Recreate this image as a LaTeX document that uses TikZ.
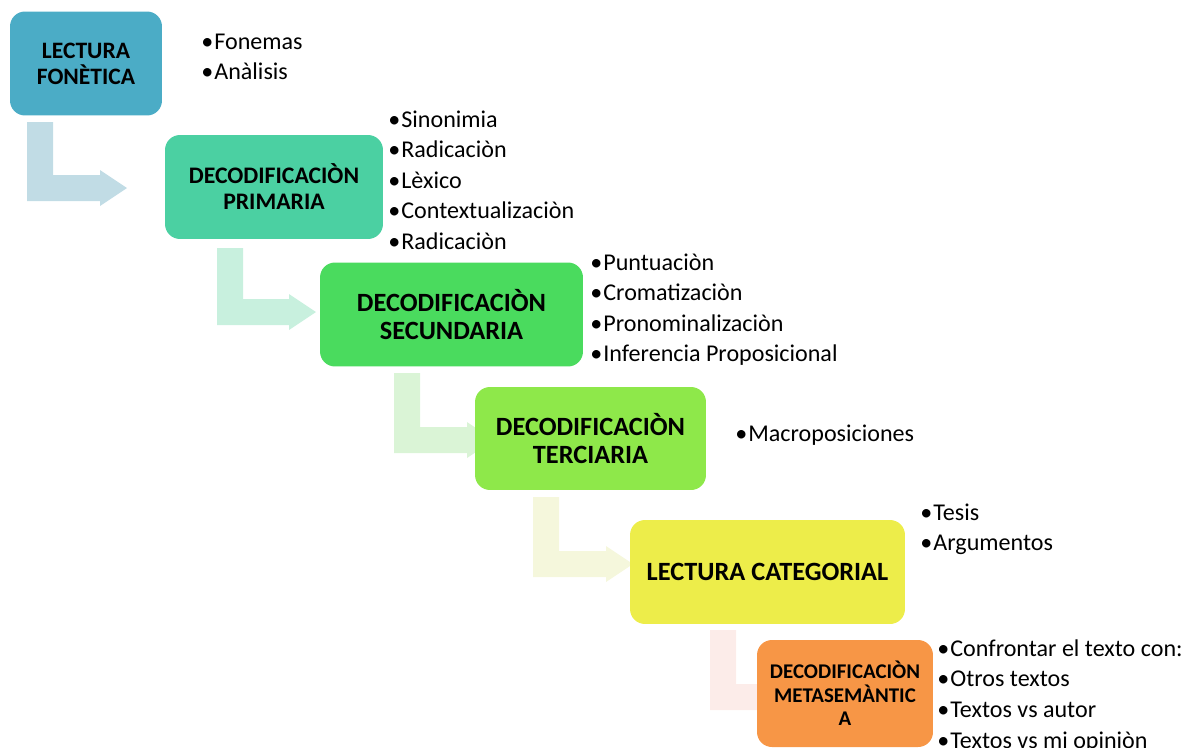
\documentclass[tikz,border=0pt]{standalone}
\usepackage{fontspec}
\setmainfont{Carlito}
\definecolor{bA}{RGB}{75,172,198}
\definecolor{bB}{RGB}{75,208,162}
\definecolor{bC}{RGB}{74,219,94}
\definecolor{bD}{RGB}{142,232,74}
\definecolor{bE}{RGB}{237,237,74}
\definecolor{bF}{RGB}{247,150,70}
\definecolor{aA}{RGB}{193,220,229}
\definecolor{aB}{RGB}{200,240,222}
\definecolor{aC}{RGB}{218,244,214}
\definecolor{aD}{RGB}{245,247,220}
\definecolor{aE}{RGB}{252,236,233}
\newcommand\bendarrow[5]{%
  \fill[#1] (#2,#3) -- ({#2+26},#3) -- ({#2+26},{#4-13}) -- (#5,{#4-13}) -- (#5,{#4-18})
    -- ({#5+27},#4) -- (#5,{#4+18}) -- (#5,{#4+13}) -- (#2,{#4+13}) -- cycle;}
\tikzset{
  stagebox/.style={draw=none, rounded corners=8.5pt, align=center, inner sep=0pt, text=black},
  bullettext/.style={anchor=base west, inner sep=0pt, font=\fontsize{13.7}{16}\selectfont},
}
\newcommand\bl{\textbullet\kern0.6pt}
\begin{document}
\begin{tikzpicture}[x=0.02cm,y=-0.02cm]
\useasboundingbox (0,0) rectangle (1186,747);
% arrows
\bendarrow{aA}{27}{122}{188}{100}
\bendarrow{aB}{217}{248}{312}{289}
\bendarrow{aC}{394}{373}{440}{467}
\bendarrow{aD}{533}{497}{564}{606}
\bendarrow{aE}{710}{630}{697}{783}
% boxes
\node[stagebox, fill=bA, minimum width=3.04cm, minimum height=2.08cm,
  font=\fontsize{13.4}{14.7}\selectfont\bfseries] (b1) at (86,63.5) {LECTURA\\FONÈTICA};
\node[stagebox, fill=bB, minimum width=4.36cm, minimum height=2.08cm,
  font=\fontsize{13.5}{14.8}\selectfont\bfseries] (b2) at (274,187) {DECODIFICACIÒN\\PRIMARIA};
\node[stagebox, fill=bC, minimum width=5.26cm, minimum height=2.08cm,
  font=\fontsize{15}{16.4}\selectfont\bfseries] (b3) at (451.5,314.5) {DECODIFICACIÒN\\SECUNDARIA};
\node[stagebox, fill=bD, minimum width=4.62cm, minimum height=2.06cm,
  font=\fontsize{15}{16.4}\selectfont\bfseries] (b4) at (590.5,438.5) {DECODIFICACIÒN\\TERCIARIA};
\node[stagebox, fill=bE, minimum width=5.5cm, minimum height=2.08cm,
  font=\fontsize{15}{16.4}\selectfont\bfseries] (b5) at (767.5,572) {LECTURA CATEGORIAL};
\node[stagebox, fill=bF, minimum width=3.52cm, minimum height=2.14cm,
  font=\fontsize{11.9}{13.3}\selectfont\bfseries] (b6) at (845,693.5) {DECODIFICACIÒN\\METASEMÀNTIC\\A};
% bullet lists
\node[bullettext] (t11) at (201,49) {\bl Fonemas};
\node[bullettext] (t12) at (201,79) {\bl Anàlisis};
\node[bullettext] (t21) at (388,127) {\bl Sinonimia};
\node[bullettext] (t22) at (388,157.5) {\bl Radicaciòn};
\node[bullettext] (t23) at (388,188) {\bl Lèxico};
\node[bullettext] (t24) at (388,218.5) {\bl Contextualizaciòn};
\node[bullettext] (t25) at (388,249) {\bl Radicaciòn};
\node[bullettext] (t31) at (590,270) {\bl Puntuaciòn};
\node[bullettext] (t32) at (590,300.5) {\bl Cromatizaciòn};
\node[bullettext] (t33) at (590,331) {\bl Pronominalizaciòn};
\node[bullettext] (t34) at (590,361) {\bl Inferencia Proposicional};
\node[bullettext] (t41) at (735,441) {\bl Macroposiciones};
\node[bullettext] (t51) at (920,520) {\bl Tesis};
\node[bullettext] (t52) at (920,550) {\bl Argumentos};
\node[bullettext] (t61) at (937,656) {\bl Confrontar el texto con:};
\node[bullettext] (t62) at (937,686.5) {\bl Otros textos};
\node[bullettext] (t63) at (937,717) {\bl Textos vs autor};
\node[bullettext] (t64) at (937,748) {\bl Textos vs mi opiniòn};
\end{tikzpicture}
\end{document}
